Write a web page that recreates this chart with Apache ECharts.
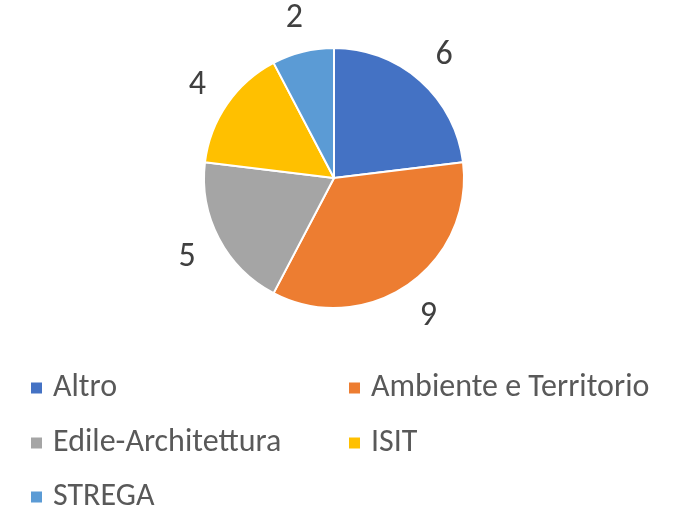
<!DOCTYPE html>
<html>
<head>
<meta charset="utf-8">
<script src="https://cdn.jsdelivr.net/npm/echarts@6/dist/echarts.min.js"></script>
<style>
  html, body { margin: 0; padding: 0; background: #fff; }
  #chart { width: 679px; height: 513px; }
</style>
</head>
<body>
<div id="chart"></div>
<script>
const categories = ['Altro', 'Ambiente e Territorio', 'Edile-Architettura', 'ISIT', 'STREGA'];
const values = [6, 9, 5, 4, 2];
const colors = ['#4472C4', '#ED7D31', '#A5A5A5', '#FFC000', '#5B9BD5'];

const cx = 334, cy = 178, pieR = 130;
const labelR = 166; // distanza del centro delle etichette
// posizione [left, top] di ogni voce della legenda
const legendPos = [[29, 372], [347, 372], [29, 427], [347, 427], [29, 481]];

const myChart = echarts.init(document.getElementById('chart'));

const total = values.reduce((a, b) => a + b, 0);
// angolo medio di ogni fetta (in senso orario da ore 12)
function midAngle(idx) {
  let before = 0;
  for (let i = 0; i < idx; i++) before += values[i];
  return (before + values[idx] / 2) / total * Math.PI * 2;
}

const legends = categories.map((name, i) => ({
  data: [name],
  left: legendPos[i][0],
  top: legendPos[i][1],
  padding: 0,
  itemWidth: 13,
  itemHeight: 13,
  icon: 'rect',
  textStyle: {
    fontSize: 32,
    lineHeight: 32,
    padding: [0, 0, 0, 5],
    fontFamily: 'Carlito, "Liberation Sans", sans-serif',
    color: '#595959'
  }
}));

const option = {
  color: colors,
  legend: legends,
  series: [
    {
      type: 'pie',
      center: [cx, cy],
      radius: pieR,
      startAngle: 90,
      clockwise: true,
      avoidLabelOverlap: false,
      itemStyle: {
        borderColor: '#fff',
        borderWidth: 2
      },
      label: {
        show: true,
        position: 'outside',
        formatter: '{c}',
        fontSize: 34,
        fontFamily: 'Carlito, "Liberation Sans", sans-serif',
        color: '#404040'
      },
      labelLine: { show: false },
      labelLayout: function (params) {
        const a = midAngle(params.dataIndex);
        return {
          x: cx + Math.sin(a) * labelR,
          y: cy - Math.cos(a) * labelR + 2,
          align: 'center',
          verticalAlign: 'middle'
        };
      },
      data: categories.map((name, i) => ({ name: name, value: values[i] }))
    }
  ]
};

myChart.setOption(option);
</script>
</body>
</html>
